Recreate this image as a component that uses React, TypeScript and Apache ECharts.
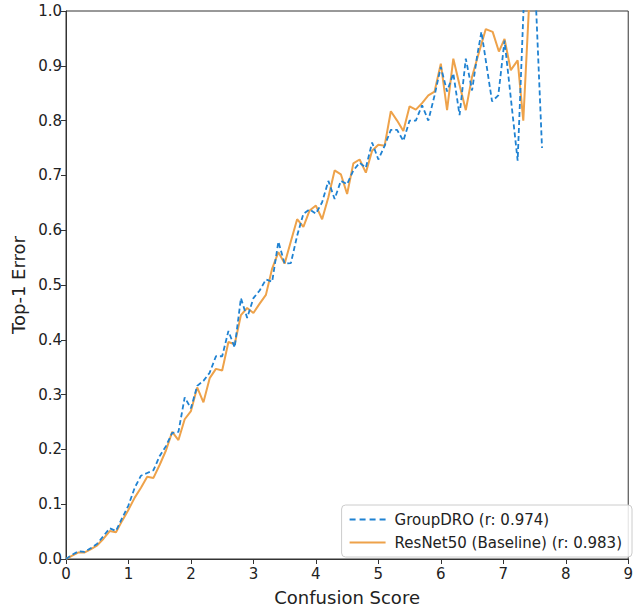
import React, { useEffect, useRef } from "react";
import * as echarts from "echarts";

const groupScores = [
  0.0, 0.1, 0.2, 0.3, 0.4, 0.5, 0.6, 0.7, 0.8, 0.9,
  1.0, 1.1, 1.2, 1.3, 1.4, 1.5, 1.6, 1.7, 1.8, 1.9,
  2.0, 2.1, 2.2, 2.3, 2.4, 2.5, 2.6, 2.7, 2.8, 2.9,
  3.0, 3.1, 3.2, 3.3, 3.4, 3.5, 3.6, 3.7, 3.8, 3.9,
  4.0, 4.1, 4.2, 4.3, 4.4, 4.5, 4.6, 4.7, 4.8, 4.9,
  5.0, 5.1, 5.2, 5.3, 5.4, 5.5, 5.6, 5.7, 5.8, 5.9,
  6.0, 6.1, 6.2, 6.3, 6.4, 6.5, 6.58, 6.65, 6.82, 6.92,
  7.02, 7.23, 7.33, 7.42, 7.52, 7.62,
];
const groupDroError = [
  0.0, 0.008, 0.014, 0.013, 0.02, 0.028, 0.042, 0.056, 0.051, 0.075,
  0.098, 0.13, 0.152, 0.157, 0.162, 0.188, 0.206, 0.23, 0.232, 0.295,
  0.275, 0.316, 0.325, 0.34, 0.37, 0.37, 0.416, 0.386, 0.476, 0.44,
  0.476, 0.49, 0.51, 0.506, 0.579, 0.539, 0.54, 0.59, 0.63, 0.638,
  0.63, 0.651, 0.69, 0.657, 0.69, 0.684, 0.709, 0.723, 0.714, 0.76,
  0.729, 0.754, 0.783, 0.783, 0.763, 0.8, 0.8, 0.828, 0.8, 0.846,
  0.898, 0.853, 0.886, 0.81, 0.913, 0.855, 0.917, 0.962, 0.835, 0.846,
  0.946, 0.727, 1.02, 1.1, 1.02, 0.75,
];

const resnetScores = [
  0.0, 0.1, 0.2, 0.3, 0.4, 0.5, 0.6, 0.7, 0.8, 0.9,
  1.0, 1.1, 1.2, 1.3, 1.4, 1.5, 1.6, 1.7, 1.8, 1.9,
  2.0, 2.1, 2.2, 2.3, 2.4, 2.5, 2.6, 2.7, 2.8, 2.9,
  3.0, 3.1, 3.2, 3.3, 3.4, 3.5, 3.6, 3.7, 3.8, 3.9,
  4.0, 4.1, 4.2, 4.3, 4.4, 4.5, 4.6, 4.7, 4.8, 4.9,
  5.0, 5.1, 5.2, 5.3, 5.4, 5.5, 5.6, 5.7, 5.8, 5.9,
  6.0, 6.1, 6.2, 6.3, 6.4, 6.5, 6.6, 6.72, 6.83, 6.93,
  7.02, 7.12, 7.23, 7.32, 7.43,
];
const resnetError = [
  0.0, 0.006, 0.012, 0.012, 0.018, 0.025, 0.037, 0.051, 0.049, 0.07,
  0.09, 0.112, 0.13, 0.15, 0.148, 0.172, 0.198, 0.232, 0.217, 0.255,
  0.27, 0.313, 0.286, 0.33, 0.347, 0.344, 0.396, 0.392, 0.445, 0.458,
  0.449, 0.466, 0.482, 0.53, 0.56, 0.539, 0.58, 0.62, 0.606, 0.636,
  0.645, 0.62, 0.66, 0.709, 0.702, 0.666, 0.722, 0.729, 0.705, 0.745,
  0.756, 0.754, 0.817, 0.8, 0.781, 0.826, 0.82, 0.832, 0.846, 0.853,
  0.904, 0.819, 0.913, 0.865, 0.819, 0.88, 0.92, 0.967, 0.962, 0.926,
  0.949, 0.892, 0.91, 0.8, 1.05,
];

const groupLabel = "GroupDRO (r: 0.974)";
const resnetLabel = "ResNet50 (Baseline) (r: 0.983)";

const dashedIcon =
  "path://M0,0h6v2h-6z M10,0h6v2h-6z M20,0h6v2h-6z M30,0h6v2h-6z";
const solidIcon = "path://M0,0h36v2h-36z";

export default function App() {
  const ref = useRef<HTMLDivElement>(null);
  useEffect(() => {
    if (!ref.current) return;
    const chart = echarts.init(ref.current, null, { renderer: "svg" });
    const font = "DejaVu Sans";
    chart.setOption({
      animation: false,
      backgroundColor: "#ffffff",
      textStyle: { fontFamily: font },
      grid: {
        left: 66,
        right: 2,
        top: 11,
        bottom: 46,
        show: true,
        borderColor: "#333333",
        borderWidth: 1,
        backgroundColor: "transparent",
      },
      legend: {
        right: 4,
        bottom: 54,
        orient: "vertical",
        itemWidth: 36,
        itemHeight: 2,
        itemGap: 8,
        padding: [7, 10, 7, 8],
        backgroundColor: "rgba(255,255,255,0.85)",
        borderColor: "#cccccc",
        borderWidth: 1,
        borderRadius: 4,
        textStyle: { fontFamily: font, fontSize: 15, color: "#222222", padding: [0, 0, 0, 4] },
        data: [
          { name: groupLabel, icon: dashedIcon, itemStyle: { color: "#1f82d2" } },
          { name: resnetLabel, icon: solidIcon, itemStyle: { color: "#eea24a" } },
        ],
      },
      xAxis: {
        type: "value",
        min: 0,
        max: 9,
        interval: 1,
        name: "Confusion Score",
        nameLocation: "middle",
        nameGap: 29,
        nameTextStyle: { fontFamily: font, fontSize: 18, color: "#222222" },
        axisLine: { show: true, lineStyle: { color: "#333333", width: 1 } },
        axisTick: { show: true, length: 5, lineStyle: { color: "#333333" } },
        axisLabel: { fontFamily: font, fontSize: 15, color: "#222222", margin: 7 },
        splitLine: { show: false },
      },
      yAxis: {
        type: "value",
        min: 0,
        max: 1,
        interval: 0.1,
        name: "Top-1 Error",
        nameLocation: "middle",
        nameRotate: 90,
        nameGap: 37,
        nameTextStyle: { fontFamily: font, fontSize: 18, color: "#222222" },
        axisLine: { show: true, lineStyle: { color: "#333333", width: 1 } },
        axisTick: { show: true, length: 5, lineStyle: { color: "#333333" } },
        axisLabel: {
          fontFamily: font,
          fontSize: 15,
          color: "#222222",
          margin: 4,
          formatter: (v: number) => v.toFixed(1),
        },
        splitLine: { show: false },
      },
      series: [
        {
          name: groupLabel,
          type: "line",
          data: groupScores.map((x, i) => [x, groupDroError[i]]),
          symbol: "none",
          clip: true,
          z: 3,
          itemStyle: { color: "#1f82d2" },
          lineStyle: { color: "#1f82d2", width: 1.8, type: [5, 3] },
        },
        {
          name: resnetLabel,
          type: "line",
          data: resnetScores.map((x, i) => [x, resnetError[i]]),
          symbol: "none",
          clip: true,
          z: 2,
          itemStyle: { color: "#eea24a" },
          lineStyle: { color: "#eea24a", width: 2 },
        },
      ],
    });
    return () => chart.dispose();
  }, []);
  return (
    <div
      ref={ref}
      style={{ position: "absolute", left: 0, top: 0, width: 636, height: 611 }}
    />
  );
}
